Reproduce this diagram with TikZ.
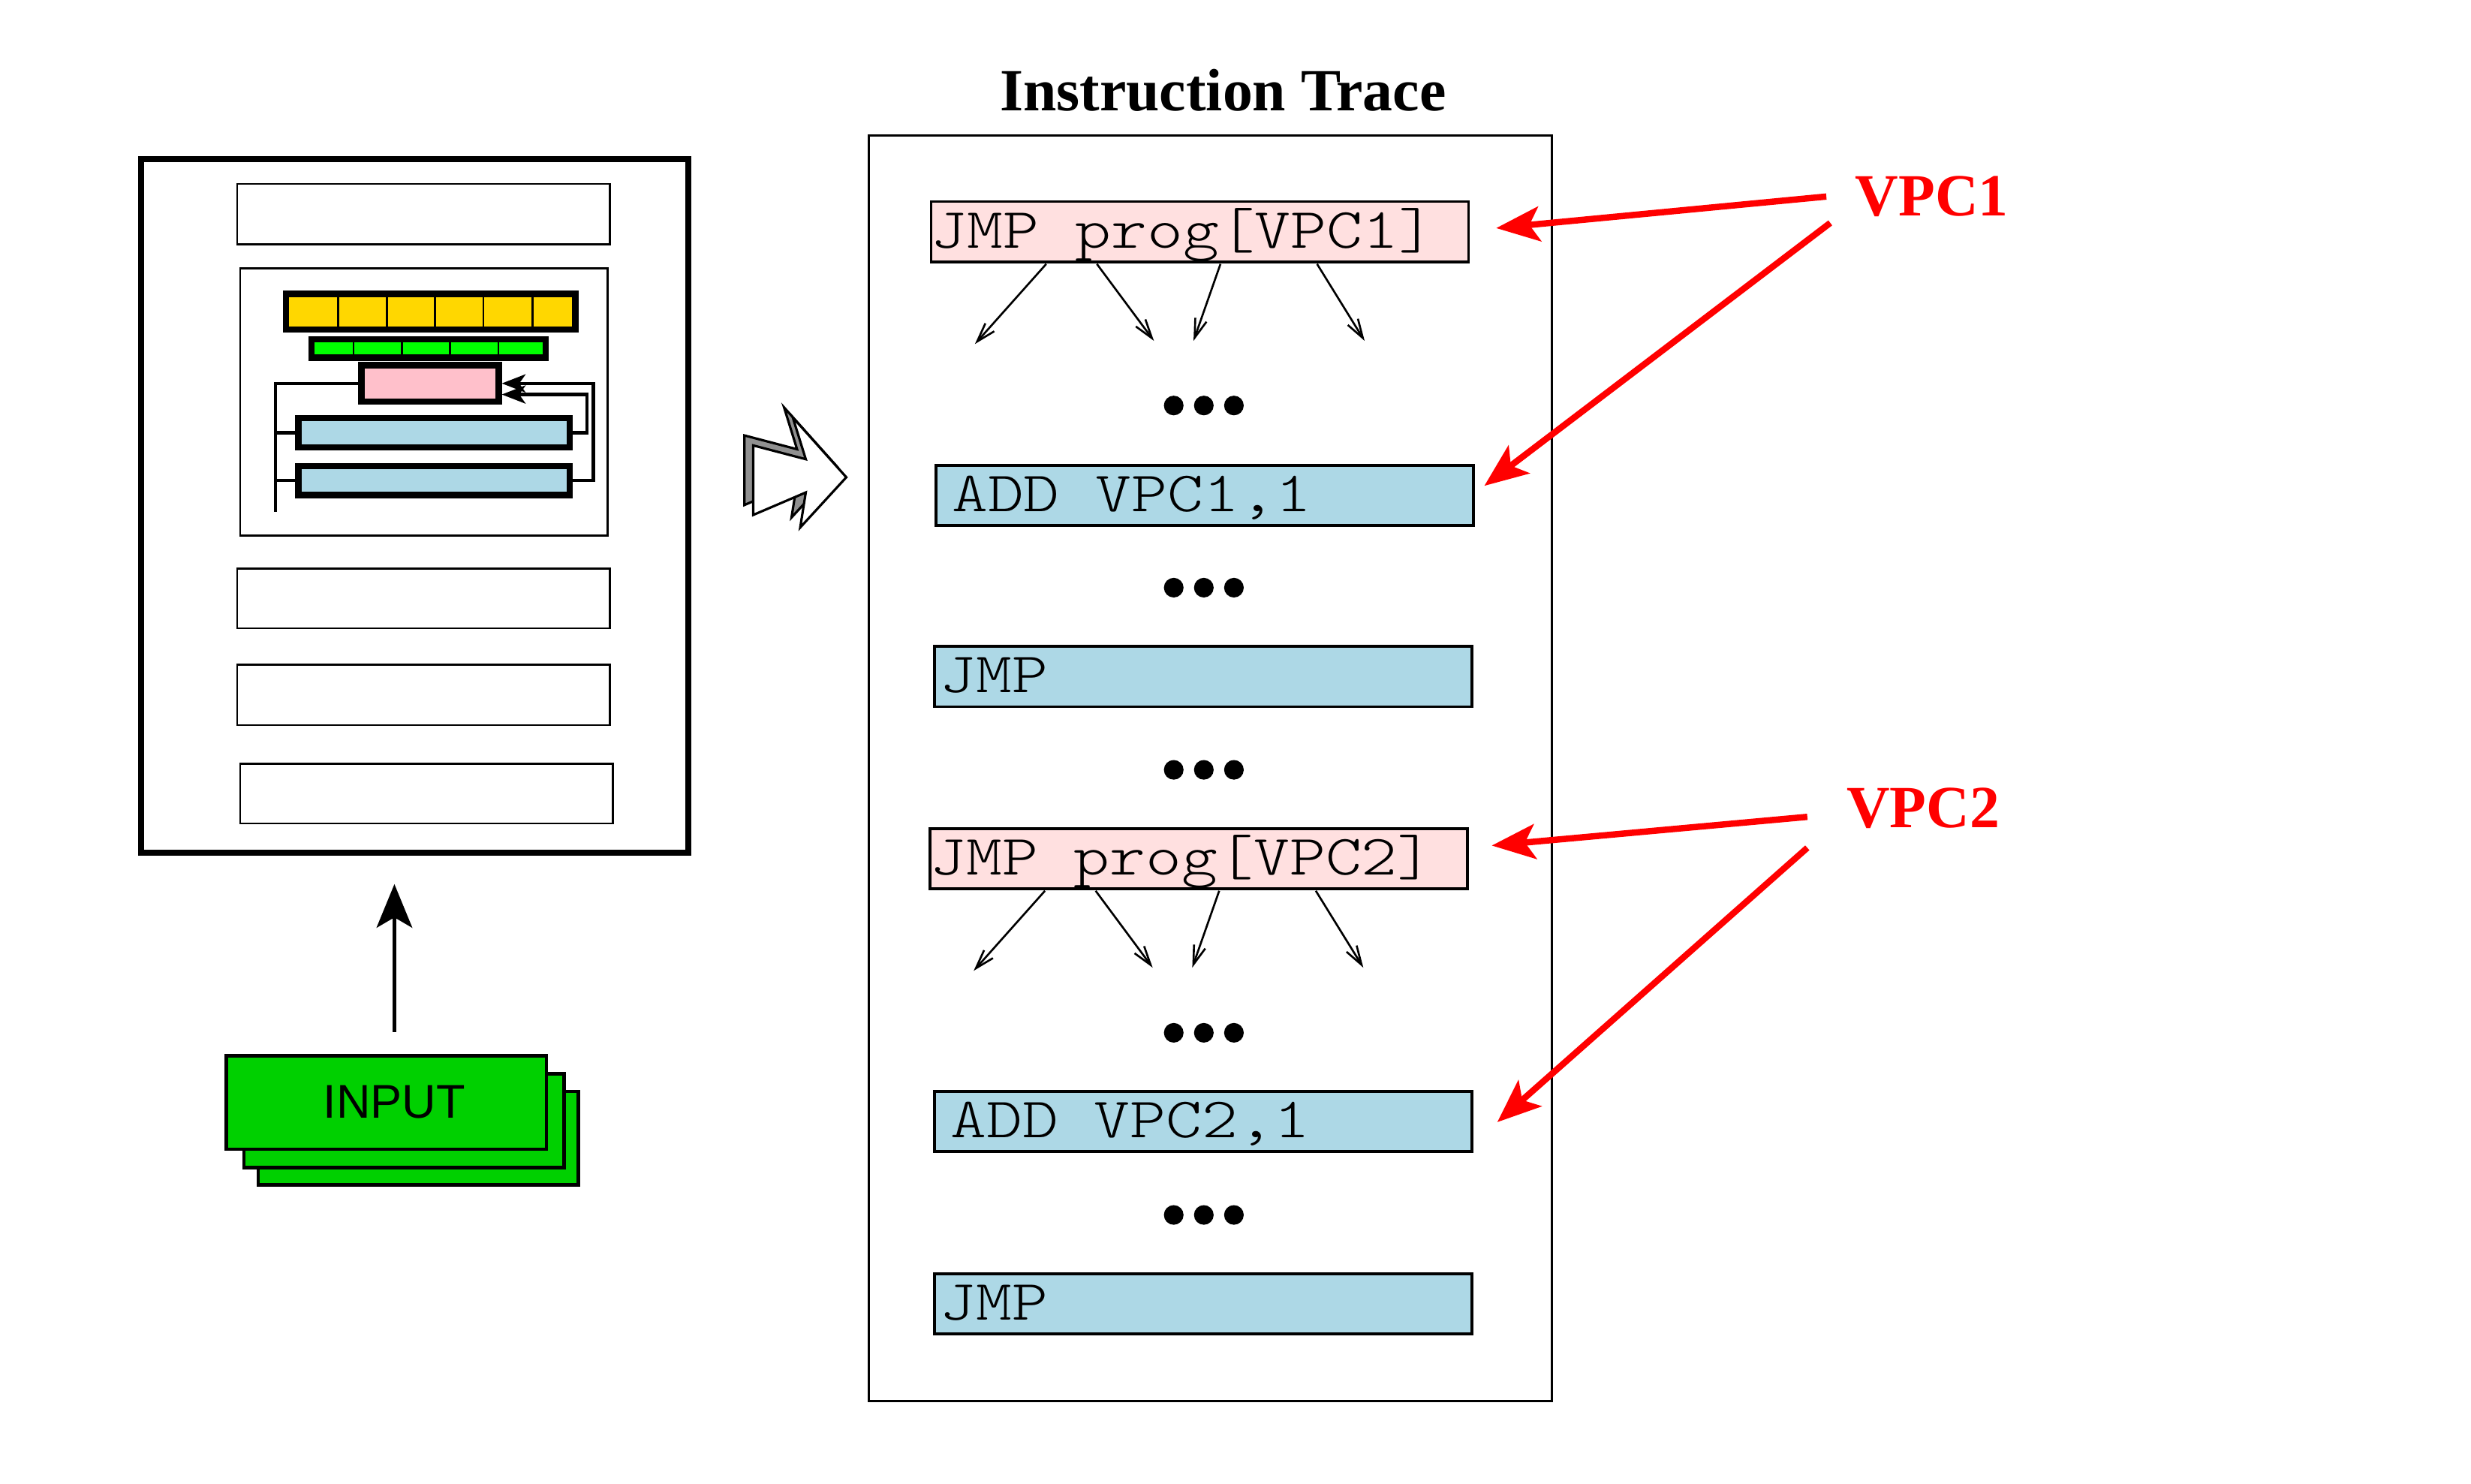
\documentclass[tikz,border=0pt]{standalone}
\usepackage{fontspec}
\setmainfont{Liberation Serif}
\setsansfont{Liberation Sans}
\newfontfamily\tracefont[FakeStretch=1.2]{Latin Modern Mono Light}
\usetikzlibrary{arrows.meta,calc,positioning}

\definecolor{tracepink}{RGB}{255,224,224}
\definecolor{traceblue}{RGB}{173,216,230}
\definecolor{regyellow}{RGB}{255,215,0}
\definecolor{flaggreen}{RGB}{0,255,0}
\definecolor{alupink}{RGB}{255,192,203}
\definecolor{inputgreen}{RGB}{0,208,0}
\definecolor{shadowgray}{RGB}{144,144,144}

\begin{document}
\begin{tikzpicture}[x=0.2mm, y=-0.2mm,
    bar/.style={draw, line width=0.8mm, inner sep=0pt},
    slot/.style={draw, line width=0.25mm},
    wire/.style={line width=0.4mm},
    instr/.style={draw, line width=0.35mm, inner sep=0pt, minimum width=67.85mm, minimum height=7.6mm},
    code/.style={font=\fontsize{20.5}{24}\selectfont\tracefont, inner sep=0pt, anchor=base west},
    heading/.style={font=\fontsize{21.5}{24}\selectfont\bfseries, inner sep=0pt, anchor=base west},
    fan/.style={line width=0.25mm, -{Straight Barb[length=2.4mm, width=1.5mm]}},
    vpcarrow/.style={red, line width=0.8mm, -{Stealth[length=5.5mm, width=4.4mm, inset=1.3mm]}},
    card/.style={draw, line width=0.45mm, fill=inputgreen, minimum width=40.4mm, minimum height=11.8mm, inner sep=0pt}
]

    \useasboundingbox (0,0) rectangle (1560,936.5);

    % Program box
    \node[draw, line width=0.7mm, minimum width=69.1mm, minimum height=87.6mm, inner sep=0pt] (prog) at (261.75,319.4) {};

    % Slots
    \draw[slot] (149.7,116.1) rectangle (385,154.2);
    \draw[slot] (151.6,169.3) rectangle (383.5,338);
    \draw[slot] (149.7,358.9) rectangle (385,396.7);
    \draw[slot] (149.7,419.6) rectangle (385,457.7);
    \draw[slot] (151.6,482.2) rectangle (386.9,519.9);

    % Processor sketch
    \node[bar, fill=regyellow, minimum width=36.52mm, minimum height=4.48mm] (regs) at (271.9,196.8) {};
    \foreach \x in {213.4,244.2,274.7,305.2,336.2}
        \draw[line width=0.26mm] (\x,186) -- (\x,207.6);
    \node[bar, fill=flaggreen, minimum width=29.56mm, minimum height=2.32mm] (flags) at (270.5,220) {};
    \foreach \x in {223.2,253.9,284.2,314.7}
        \draw[line width=0.26mm] (\x,214.6) -- (\x,225.4);
    \node[bar, fill=alupink, minimum width=17.32mm, minimum height=4.58mm] (alu) at (271.5,242.05) {};
    \node[bar, fill=traceblue, minimum width=34.24mm, minimum height=3.68mm] (mem1) at (274,273.2) {};
    \node[bar, fill=traceblue, minimum width=34.24mm, minimum height=3.62mm] (mem2) at (274,303.45) {};

    % Wires
    \coordinate (busend) at (173.8,323.4);
    \draw[wire] (alu.west) -| (busend);
    \draw[wire] (busend |- mem1) -- (mem1.west);
    \draw[wire] (busend |- mem2) -- (mem2.west);
    \draw[wire, -{Stealth[length=3mm, width=2.3mm, inset=0.8mm]}] (mem1.east) -- ++(9,0) |- ([yshift=-1.4mm]alu.east);
    \draw[wire, -{Stealth[length=3mm, width=2.3mm, inset=0.8mm]}] (mem2.east) -- ++(13,0) |- (alu.east);

    % Big arrow with shadow
    \draw[line width=0.3mm, fill=shadowgray, shift={(-5.5,-6.3)}] (475.5,281.2) -- (508.7,289.9) -- (500.5,263.5) -- (534.3,301.3) -- (505.2,333) -- (508.7,310.9) -- (475.5,325.1) -- cycle;
    \draw[line width=0.3mm, fill=white] (475.5,281.2) -- (508.7,289.9) -- (500.5,263.5) -- (534.3,301.3) -- (505.2,333) -- (508.7,310.9) -- (475.5,325.1) -- cycle;

    % Input cards
    \node[card] (in1) at (264,718.5) {};
    \node[card] (in2) at (255,707.5) {};
    \node[card] (in3) at (244,696) {};
    \node[font=\fontsize{17}{20}\selectfont\sffamily, inner sep=0pt] (inlabel) at (249,695.5) {INPUT};
    \draw[line width=0.45mm, -{Stealth[length=5.5mm, width=4.5mm, inset=1.3mm]}, shorten <=2.8mm, shorten >=3.6mm] (inlabel |- in3.north) -- (inlabel |- prog.south);

    % Trace
    \node[draw, line width=0.3mm, minimum width=86.22mm, minimum height=159.8mm, inner sep=0pt] (trace) at (764,485) {};
    \node[heading] (title) at (631,69.7) {Instruction Trace};

    \node[instr, fill=tracepink] (jmpA) at (757.5,146.3) {};
    \node[instr, fill=traceblue] (addA) at (760.6,312.7) {};
    \node[instr, fill=traceblue] (jmpB) at (759.7,427.1) {};
    \node[instr, fill=tracepink] (jmpC) at (756.7,542) {};
    \node[instr, fill=traceblue] (addB) at (759.7,708) {};
    \node[instr, fill=traceblue] (jmpD) at (759.7,823) {};

    \node[code] (jmpAtxt) at ([shift={(0.7,-9.7)}]jmpA.south west) {JMP prog[VPC1]};
    \node[code] (addAtxt) at ([shift={(10.5,-9.7)}]addA.south west) {ADD VPC1,1};
    \node[code] (jmpBtxt) at ([shift={(4,-9.7)}]jmpB.south west) {JMP};
    \node[code] (jmpCtxt) at ([shift={(0.7,-9.7)}]jmpC.south west) {JMP prog[VPC2]};
    \node[code] (addBtxt) at ([shift={(10.5,-9.7)}]addB.south west) {ADD VPC2,1};
    \node[code] (jmpDtxt) at ([shift={(4,-9.7)}]jmpD.south west) {JMP};

    % Dots
    \foreach \y in {256,371,486,652,767}
        \foreach \x in {741,760,779}
            \fill (\x,\y) circle (1.24mm);

    % Jump targets
    \foreach \b in {jmpA,jmpC}
        \foreach \sx/\ex/\ey in {-97/-142/51, -65/-29/49, 13/-4/49, 74/104/49}
            \draw[fan] ($(\b.south)+(\sx,0.5)$) -- ($(\b.south)+(\ex,\ey)$);

    % Virtual PCs
    \node[heading, text=red] (vpc1) at (1171,136.3) {VPC1};
    \node[heading, text=red] (vpc2) at (1165.5,522.4) {VPC2};
    \draw[vpcarrow] ([shift={(-18,0)}]vpc1.west) -- ([shift={(16.6,-2.3)}]jmpA.east);
    \draw[vpcarrow] ([shift={(-15.5,3.5)}]vpc1.south west) -- ([shift={(6,-6)}]addA.east);
    \draw[vpcarrow] ([shift={(-24.5,5.5)}]vpc2.west) -- ([shift={(14.6,-8.2)}]jmpC.east);
    \draw[vpcarrow] ([shift={(-24.5,11.9)}]vpc2.south west) -- ([shift={(15.1,0.4)}]addB.east);

\end{tikzpicture}
\end{document}
